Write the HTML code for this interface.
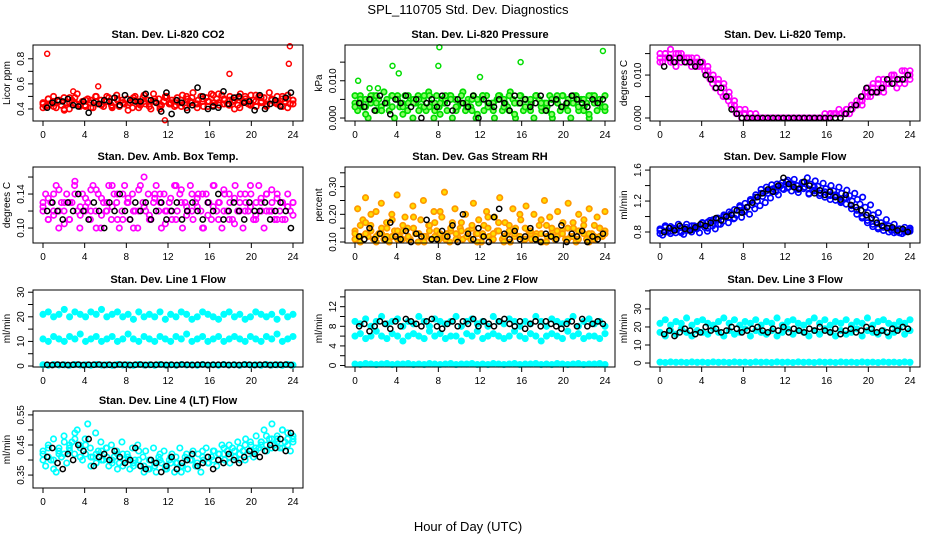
<!DOCTYPE html>
<html><head><meta charset="utf-8"><style>
body{margin:0;background:#fff;}
svg{display:block;font-family:"Liberation Sans",sans-serif;}
</style></head><body>
<svg id="c" width="936" height="540" xmlns="http://www.w3.org/2000/svg">
<text x="468" y="14" text-anchor="middle" font-size="13">SPL_110705  Std. Dev. Diagnostics</text>
<text x="468" y="531" text-anchor="middle" font-size="13">Hour of Day (UTC)</text>
</svg>
<script>
const xTicks=[0,4,8,12,16,20,24];
const titles=["Stan. Dev. Li-820 CO2","Stan. Dev. Li-820 Pressure","Stan. Dev. Li-820 Temp.","Stan. Dev. Amb. Box Temp.","Stan. Dev. Gas Stream RH","Stan. Dev. Sample Flow","Stan. Dev. Line 1 Flow","Stan. Dev. Line 2 Flow","Stan. Dev. Line 3 Flow","Stan. Dev. Line 4 (LT) Flow"];
const yTitles=["Licor ppm","kPa","degrees C","degrees C","percent","ml/min","ml/min","ml/min","ml/min","ml/min"];
const yDomains=[[0.304,0.91],[-0.0008,0.0196],[-0.0007,0.0170],[0.0824,0.1718],[0.0964,0.371],[0.658,1.64],[-0.4,30.9],[-0.3,15.4],[-2.2,40.5],[0.307,0.563]];
const yTickVals=[[0.4,0.5,0.6,0.7,0.8],[0,0.005,0.01,0.015],[0,0.005,0.01,0.015],[0.1,0.12,0.14,0.16],[0.1,0.15,0.2,0.25,0.3,0.35],[0.8,1.0,1.2,1.4,1.6],[0,5,10,15,20,25,30],[0,2,4,6,8,10,12,14],[0,10,20,30,40],[0.35,0.4,0.45,0.5,0.55]];
const yTickLabels=[["0.4","","0.6","","0.8"],["0.000","","0.010",""],["0.000","","0.010",""],["0.10","","0.14",""],["0.10","","0.20","","0.30",""],["0.8","","1.2","","1.6"],["0","","10","","20","","30"],["0","","4","","8","","12",""],["0","10","20","30",""],["0.35","","0.45","","0.55"]];
const colors=["#ff0000","#00dd00","#ff00ff","#ff00ff","#ff9900","#0000ff","#00ffff","#00ffff","#00ffff","#00ffff"];
const fills=["none","#88ff66","none","none","#ffdd00","none","#00ffff","#00ffff","#00ffff","none"];

const co2=[0.45,0.42,0.48,0.44,0.50,0.41,0.46,0.43,0.49,0.45,0.40,0.47,0.44,0.52,0.42,0.46,0.43,0.48,0.45,0.41,0.50,0.44,0.47,0.42,0.46,0.49,0.43,0.45,0.51,0.42,0.47,0.44,0.48,0.45,0.41,0.50,0.46,0.43,0.49,0.44,0.47,0.40,0.52,0.45,0.48,0.43,0.46,0.50,0.44,0.47,0.42,0.49,0.45,0.51,0.43,0.48,0.46,0.53,0.44,0.47,0.50,0.42,0.49,0.46,0.52,0.45,0.48,0.43,0.51,0.47,0.44,0.50,0.46,0.49,0.43,0.52,0.45,0.48,0.44,0.51,0.47,0.42,0.50,0.46,0.49,0.44,0.53,0.47,0.45,0.50,0.43,0.48,0.46,0.51,0.44,0.47];
const co2b=[0.41,0.43,0.46,0.47,0.40,0.49,0.45,0.44,0.42,0.47,0.50,0.43,0.46,0.41,0.48,0.45,0.39,0.47,0.44,0.51,0.42,0.46,0.40,0.49,0.44,0.47,0.42,0.50,0.45,0.41,0.48,0.46,0.43,0.52,0.44,0.47,0.40,0.49,0.46,0.43,0.51,0.45,0.42,0.48,0.44,0.50,0.41,0.47];
const co2c=[0.44,0.48,0.42,0.46,0.39,0.45,0.49,0.43,0.47,0.41,0.46,0.44,0.50,0.42,0.47,0.45,0.43,0.49,0.41,0.46,0.44,0.48,0.42,0.50,0.45,0.43,0.47,0.41,0.49,0.44,0.46,0.42,0.51,0.45,0.48,0.43,0.47,0.41,0.50,0.44,0.46,0.49,0.43,0.47,0.45,0.42,0.48,0.44];
const co2Black=[0.41,0.45,0.47,0.46,0.48,0.43,0.42,0.46,0.37,0.45,0.44,0.47,0.46,0.49,0.43,0.51,0.47,0.46,0.46,0.52,0.47,0.45,0.38,0.53,0.36,0.47,0.45,0.39,0.43,0.57,0.50,0.40,0.42,0.41,0.54,0.44,0.49,0.50,0.45,0.46,0.39,0.51,0.40,0.44,0.47,0.42,0.49,0.53];
const co2OutHours=[0.4,5.3,17.9,23.6,23.7,11.7,2.9];
const co2OutVals=[0.84,0.58,0.68,0.76,0.90,0.31,0.54];

const pres=[0.004,0.002,0.006,0.003,0.005,0.000,0.004,0.006,0.002,0.005,0.003,0.007,0.004,0.002,0.006,0.000,0.005,0.003,0.004,0.006,0.002,0.005,0.000,0.004,0.006,0.003,0.005,0.002,0.007,0.004,0.000,0.006,0.003,0.005,0.004,0.002,0.006,0.000,0.005,0.003,0.004,0.007,0.002,0.005,0.003,0.006,0.000,0.004,0.005,0.002,0.006,0.003,0.004,0.000,0.005,0.006,0.002,0.004,0.003,0.007,0.005,0.000,0.004,0.006,0.002,0.005,0.003,0.004,0.000,0.006,0.005,0.002,0.004,0.003,0.006,0.000,0.005,0.004,0.002,0.006,0.003,0.005,0.000,0.004,0.006,0.002,0.005,0.003,0.004,0.000,0.006,0.005,0.002,0.004,0.003,0.006];
const presb=[0.003,0.005,0.001,0.006,0.004,0.002,0.005,0.003,0.006,0.001,0.004,0.005,0.002,0.006,0.003,0.004,0.001,0.005,0.006,0.002,0.004,0.003,0.005,0.001,0.006,0.004,0.002,0.005,0.003,0.006,0.001,0.004,0.005,0.002,0.006,0.003,0.004,0.001,0.005,0.006,0.002,0.004,0.003,0.005,0.001,0.006,0.004,0.002];
const presc=[0.006,0.004,0.003,0.005,0.006,0.002,0.004,0.006,0.005,0.003,0.006,0.004,0.005,0.003,0.006,0.002,0.004,0.006,0.005,0.003,0.006,0.004,0.002,0.005,0.006,0.003,0.004,0.006,0.005,0.002,0.004,0.006,0.003,0.005,0.006,0.004,0.002,0.005,0.006,0.003,0.004,0.006,0.005,0.002,0.006,0.004,0.005,0.003];
const presBlack=[0.004,0.003,0.005,0.002,0.006,0.004,0.001,0.005,0.004,0.006,0.003,0.005,0.000,0.004,0.005,0.003,0.006,0.004,0.002,0.005,0.004,0.003,0.006,0.000,0.005,0.004,0.003,0.005,0.004,0.002,0.006,0.004,0.005,0.003,0.004,0.006,0.002,0.004,0.005,0.003,0.004,0.006,0.005,0.004,0.003,0.005,0.004,0.005];
const presOutHours=[0.3,2.2,3.6,4.2,8.0,8.1,12.0,15.9,23.8,1.4];
const presOutVals=[0.010,0.008,0.014,0.012,0.014,0.019,0.011,0.015,0.018,0.008];

const tmp=[0.014,0.013,0.015,0.014,0.016,0.013,0.014,0.015,0.013,0.014,0.013,0.014,0.012,0.013,0.014,0.012,0.013,0.011,0.010,0.009,0.008,0.007,0.008,0.006,0.005,0.005,0.004,0.003,0.002,0.001,0.001,0.000,0.001,0.000,0.000,0.000,0.000,0.000,0.000,0.000,0.000,0.000,0.000,0.000,0.000,0.000,0.000,0.000,0.000,0.000,0.000,0.000,0.000,0.000,0.000,0.000,0.000,0.000,0.000,0.000,0.000,0.000,0.000,0.000,0.000,0.001,0.001,0.001,0.002,0.001,0.001,0.002,0.001,0.002,0.003,0.003,0.004,0.005,0.006,0.007,0.005,0.008,0.006,0.009,0.007,0.006,0.008,0.009,0.010,0.008,0.007,0.009,0.011,0.008,0.010,0.009];
const tmpb=[0.015,0.014,0.013,0.015,0.014,0.013,0.014,0.012,0.013,0.011,0.010,0.009,0.007,0.006,0.004,0.002,0.002,0.001,0.001,0.000,0.000,0.000,0.000,0.000,0.000,0.000,0.000,0.000,0.000,0.000,0.000,0.000,0.001,0.001,0.001,0.002,0.002,0.003,0.004,0.005,0.006,0.008,0.007,0.009,0.010,0.008,0.011,0.010];
const tmpc=[0.013,0.015,0.014,0.012,0.015,0.014,0.013,0.013,0.012,0.012,0.009,0.008,0.008,0.005,0.003,0.002,0.001,0.001,0.000,0.000,0.000,0.000,0.000,0.000,0.000,0.000,0.000,0.000,0.000,0.000,0.000,0.001,0.001,0.001,0.001,0.001,0.003,0.004,0.003,0.006,0.007,0.006,0.009,0.008,0.010,0.009,0.009,0.011];
const tmpBlack=[0.012,0.014,0.013,0.014,0.013,0.013,0.012,0.013,0.010,0.009,0.007,0.007,0.005,0.002,0.001,0.000,0.000,0.000,0.000,0.000,0.000,0.000,0.000,0.000,0.000,0.000,0.000,0.000,0.000,0.000,0.000,0.000,0.000,0.000,0.000,0.001,0.002,0.003,0.005,0.007,0.006,0.006,0.007,0.009,0.008,0.009,0.009,0.010];

const amb=[0.12,0.14,0.11,0.13,0.12,0.15,0.10,0.13,0.12,0.14,0.11,0.13,0.15,0.12,0.10,0.14,0.12,0.13,0.11,0.15,0.12,0.14,0.10,0.13,0.12,0.15,0.11,0.14,0.13,0.10,0.12,0.15,0.13,0.11,0.14,0.12,0.10,0.15,0.13,0.12,0.14,0.11,0.13,0.15,0.12,0.10,0.14,0.12,0.13,0.11,0.15,0.12,0.14,0.10,0.13,0.12,0.15,0.11,0.13,0.14,0.12,0.10,0.14,0.13,0.11,0.15,0.12,0.13,0.10,0.14,0.12,0.13,0.11,0.15,0.12,0.14,0.10,0.13,0.12,0.14,0.11,0.13,0.15,0.12,0.10,0.14,0.12,0.13,0.11,0.14,0.12,0.13,0.11,0.14,0.12,0.13];
const ambb=[0.13,0.11,0.14,0.12,0.105,0.13,0.155,0.115,0.125,0.145,0.10,0.135,0.12,0.15,0.11,0.14,0.13,0.10,0.12,0.16,0.11,0.135,0.14,0.105,0.12,0.15,0.13,0.115,0.14,0.125,0.10,0.13,0.15,0.11,0.12,0.14,0.105,0.13,0.12,0.15,0.11,0.135,0.12,0.145,0.11,0.13,0.125,0.115];
const ambc=[0.125,0.135,0.115,0.145,0.13,0.11,0.14,0.125,0.135,0.12,0.145,0.115,0.13,0.125,0.14,0.11,0.135,0.12,0.145,0.125,0.115,0.14,0.13,0.12,0.135,0.11,0.145,0.125,0.12,0.135,0.14,0.115,0.125,0.13,0.145,0.11,0.135,0.12,0.14,0.125,0.115,0.13,0.14,0.12,0.135,0.11,0.125,0.13];
const ambBlack=[0.12,0.13,0.12,0.11,0.13,0.12,0.14,0.12,0.11,0.13,0.12,0.10,0.13,0.12,0.14,0.12,0.11,0.13,0.12,0.13,0.11,0.12,0.13,0.11,0.12,0.13,0.11,0.12,0.13,0.12,0.11,0.13,0.12,0.14,0.11,0.12,0.13,0.12,0.11,0.13,0.12,0.12,0.13,0.11,0.12,0.13,0.12,0.10];

const rh=[0.14,0.22,0.10,0.18,0.26,0.12,0.16,0.11,0.21,0.13,0.24,0.11,0.17,0.10,0.20,0.14,0.27,0.12,0.11,0.19,0.15,0.11,0.23,0.13,0.10,0.18,0.25,0.12,0.16,0.11,0.21,0.14,0.11,0.19,0.28,0.13,0.10,0.17,0.22,0.12,0.15,0.11,0.20,0.14,0.11,0.24,0.13,0.18,0.10,0.16,0.21,0.12,0.11,0.19,0.14,0.26,0.11,0.17,0.13,0.10,0.22,0.15,0.12,0.18,0.11,0.23,0.14,0.11,0.20,0.13,0.16,0.10,0.25,0.12,0.19,0.14,0.11,0.21,0.13,0.17,0.11,0.24,0.12,0.15,0.10,0.20,0.14,0.18,0.11,0.22,0.13,0.11,0.19,0.15,0.12,0.21];
const rhb=[0.11,0.16,0.13,0.20,0.10,0.15,0.12,0.18,0.11,0.14,0.11,0.19,0.13,0.10,0.16,0.12,0.21,0.11,0.14,0.11,0.17,0.12,0.15,0.10,0.13,0.19,0.11,0.14,0.10,0.16,0.12,0.20,0.11,0.13,0.11,0.18,0.10,0.15,0.12,0.14,0.11,0.17,0.11,0.13,0.10,0.16,0.12,0.14];
const rhc=[0.13,0.12,0.17,0.14,0.12,0.13,0.15,0.12,0.14,0.16,0.12,0.15,0.13,0.12,0.14,0.17,0.13,0.12,0.15,0.13,0.14,0.12,0.16,0.13,0.12,0.15,0.13,0.17,0.12,0.14,0.13,0.12,0.15,0.14,0.12,0.13,0.16,0.12,0.14,0.13,0.15,0.12,0.14,0.16,0.13,0.12,0.15,0.13];
const rhBlack=[0.12,0.11,0.15,0.11,0.13,0.11,0.17,0.12,0.11,0.14,0.10,0.13,0.12,0.18,0.11,0.11,0.14,0.12,0.16,0.10,0.20,0.13,0.11,0.15,0.12,0.10,0.19,0.22,0.13,0.11,0.14,0.11,0.12,0.15,0.11,0.10,0.13,0.12,0.11,0.16,0.10,0.13,0.12,0.14,0.10,0.12,0.11,0.13];

const flow=[0.82,0.76,0.88,0.80,0.78,0.85,0.79,0.90,0.81,0.77,0.86,0.83,0.80,0.88,0.84,0.79,0.92,0.86,0.81,0.95,0.88,0.84,0.98,0.90,0.94,1.00,0.92,1.04,0.97,1.02,1.08,0.99,1.06,1.12,1.03,1.15,1.10,1.20,1.14,1.26,1.18,1.30,1.24,1.36,1.32,1.28,1.40,1.35,1.45,1.38,1.33,1.48,1.40,1.36,1.44,1.38,1.50,1.42,1.34,1.46,1.39,1.30,1.43,1.36,1.28,1.40,1.33,1.26,1.38,1.30,1.24,1.34,1.27,1.20,1.30,1.22,1.16,1.25,1.12,1.05,1.15,1.02,0.96,1.05,0.92,0.88,0.96,0.85,0.82,0.90,0.80,0.84,0.78,0.86,0.81,0.83];
const flowb=[0.78,0.86,0.81,0.84,0.79,0.90,0.83,0.87,0.92,0.85,0.96,0.90,1.00,1.06,0.98,1.12,1.08,1.20,1.25,1.30,1.38,1.33,1.42,1.36,1.47,1.40,1.35,1.44,1.30,1.38,1.27,1.32,1.22,1.28,1.18,1.24,1.14,1.08,1.00,0.95,0.90,0.86,0.82,0.88,0.79,0.84,0.80,0.85];
const flowc=[0.84,0.80,0.87,0.83,0.86,0.82,0.88,0.85,0.89,0.93,0.91,0.97,1.02,0.99,1.09,1.14,1.17,1.22,1.28,1.35,1.33,1.41,1.38,1.44,1.37,1.42,1.31,1.36,1.29,1.33,1.30,1.25,1.27,1.21,1.20,1.16,1.10,1.03,0.98,0.92,0.87,0.84,0.86,0.80,0.83,0.79,0.82,0.81];
const flowBlack=[0.80,0.85,0.82,0.88,0.84,0.82,0.86,0.90,0.88,0.92,0.98,0.95,1.00,1.02,1.08,1.05,1.12,1.18,1.25,1.30,1.35,1.32,1.40,1.50,1.42,1.38,1.36,1.45,1.40,1.30,1.34,1.28,1.32,1.25,1.22,1.28,1.15,1.12,1.08,1.02,0.98,0.92,0.88,0.85,0.86,0.82,0.84,0.80];

const l1High=[21,22,20,21,23,20,22,21,20,22,21,23,20,21,22,20,21,19,22,20,21,20,22,19,21,20,22,21,19,20,22,21,20,19,21,22,20,21,19,20,22,21,20,21,19,22,20,21];
const l1Mid=[11,10,12,11,10,12,11,13,10,11,12,10,11,12,10,11,13,11,10,12,11,10,12,11,10,12,11,13,10,11,12,10,11,12,10,11,12,11,10,12,11,10,12,11,13,10,11,12];
const l1Low=[0.5,0.3,0.6,0.4,0.5,0.3,0.6,0.4,0.5,0.3,0.6,0.4,0.5,0.3,0.6,0.4,0.5,0.3,0.6,0.4,0.5,0.3,0.6,0.4,0.5,0.3,0.6,0.4,0.5,0.3,0.6,0.4,0.5,0.3,0.6,0.4,0.5,0.3,0.6,0.4,0.5,0.3,0.6,0.4,0.5,0.3,0.6,0.4];
const l1Black=[0.5,0.4,0.6,0.5,0.4,0.5,0.6,0.4,0.5,0.5,0.6,0.4,0.5,0.4,0.6,0.5,0.4,0.5,0.6,0.4,0.5,0.5,0.6,0.4,0.5,0.4,0.6,0.5,0.4,0.5,0.6,0.4,0.5,0.5,0.6,0.4,0.5,0.4,0.6,0.5,0.4,0.5,0.6,0.4,0.5,0.5,0.6,0.4];

const l2High=[9,8.5,9.5,8,9,10,8.5,9,9.5,8,9,8.5,10,9,8,9.5,9,8.5,9,10,8,9,9.5,8.5,9,8,10,9,8.5,9.5,9,8,9,8.5,10,9,8,9.5,9,8.5,9,10,8,9,9.5,8.5,9,8];
const l2Mid=[6,6.5,5.5,6,7,6,5.5,6.5,6,5,6,6.5,6,5.5,7,6,6.5,5.5,6,6,5,6.5,6,7,5.5,6,6.5,6,5.5,6,7,6,5.5,6.5,6,5,6,6.5,6,5.5,7,6,6.5,5.5,6,6,5.5,6.5];
const l2Low=[0.3,0.2,0.4,0.3,0.2,0.3,0.4,0.2,0.3,0.3,0.4,0.2,0.3,0.2,0.4,0.3,0.2,0.3,0.4,0.2,0.3,0.3,0.4,0.2,0.3,0.2,0.4,0.3,0.2,0.3,0.4,0.2,0.3,0.3,0.4,0.2,0.3,0.2,0.4,0.3,0.2,0.3,0.4,0.2,0.3,0.3,0.4,0.2];
const l2Black=[8,8.5,7,8,9,8.5,7.5,9,8,9.5,9,8.5,8,9,9.5,8,7.5,8.5,9,8,9,8.5,9.5,8,9,8.5,8,9,9.5,8.5,8,9,7.5,8.5,9,8,9,8.5,8,7.5,8.5,9,8,9.5,8,8.5,9,8.5];

const l3High=[22,24,21,23,22,25,21,23,24,22,21,23,25,22,24,21,23,22,24,21,23,22,25,21,23,24,22,21,23,25,22,24,21,23,22,24,21,23,22,25,21,23,24,22,21,23,22,24];
const l3Mid=[17,15,18,16,19,17,15,18,17,16,19,17,15,18,16,17,19,15,18,17,16,18,15,17,19,16,18,17,15,18,16,19,17,15,18,16,17,19,15,18,17,16,18,15,17,19,16,18];
const l3Low=[0.5,0.3,0.6,0.4,0.5,0.3,0.6,0.4,0.5,0.3,0.6,0.4,0.5,0.3,0.6,0.4,0.5,0.3,0.6,0.4,0.5,0.3,0.6,0.4,0.5,0.3,0.6,0.4,0.5,0.3,0.6,0.4,0.5,0.3,0.6,0.4,0.5,0.3,0.6,0.4,0.5,0.3,0.6,0.4,0.5,0.3,0.6,0.4];
const l3Black=[16,18,15,17,19,18,16,17,20,18,19,17,18,20,19,17,18,19,20,18,17,19,18,20,17,19,18,17,19,18,20,18,17,19,16,18,19,17,18,20,19,17,18,17,19,18,20,19];

const l4=[0.42,0.38,0.45,0.40,0.47,0.36,0.43,0.41,0.48,0.39,0.44,0.46,0.42,0.50,0.45,0.40,0.47,0.52,0.44,0.41,0.49,0.43,0.46,0.40,0.44,0.38,0.45,0.41,0.43,0.39,0.46,0.40,0.42,0.37,0.44,0.40,0.45,0.38,0.41,0.43,0.37,0.40,0.44,0.36,0.41,0.39,0.43,0.37,0.40,0.42,0.36,0.39,0.44,0.38,0.41,0.37,0.40,0.43,0.38,0.42,0.36,0.40,0.44,0.39,0.41,0.43,0.38,0.42,0.45,0.40,0.43,0.39,0.44,0.41,0.46,0.40,0.43,0.47,0.42,0.45,0.41,0.48,0.44,0.46,0.50,0.43,0.47,0.52,0.45,0.48,0.44,0.50,0.46,0.49,0.43,0.47];
const l4b=[0.40,0.44,0.37,0.42,0.46,0.43,0.49,0.41,0.45,0.38,0.42,0.40,0.44,0.39,0.37,0.42,0.40,0.38,0.43,0.36,0.40,0.38,0.42,0.37,0.39,0.41,0.36,0.40,0.42,0.38,0.41,0.39,0.43,0.40,0.42,0.45,0.41,0.44,0.40,0.46,0.43,0.45,0.48,0.44,0.47,0.50,0.45,0.48];
const l4c=[0.43,0.41,0.40,0.44,0.42,0.45,0.47,0.44,0.42,0.41,0.39,0.43,0.41,0.40,0.42,0.38,0.41,0.39,0.40,0.38,0.37,0.39,0.40,0.38,0.41,0.39,0.38,0.42,0.40,0.39,0.43,0.41,0.40,0.42,0.44,0.41,0.43,0.42,0.45,0.43,0.44,0.46,0.45,0.47,0.46,0.44,0.47,0.46];
const l4Black=[0.41,0.44,0.39,0.37,0.42,0.40,0.45,0.43,0.47,0.38,0.41,0.42,0.40,0.43,0.41,0.39,0.40,0.44,0.38,0.37,0.40,0.39,0.36,0.38,0.41,0.37,0.39,0.40,0.42,0.38,0.39,0.41,0.37,0.40,0.39,0.42,0.40,0.39,0.41,0.43,0.42,0.41,0.43,0.45,0.44,0.47,0.43,0.49];

const panels=[
 {main:[co2,co2b,co2c],black:co2Black,outH:co2OutHours,outV:co2OutVals},
 {main:[pres,presb,presc],black:presBlack,outH:presOutHours,outV:presOutVals},
 {main:[tmp,tmpb,tmpc],black:tmpBlack},
 {main:[amb,ambb,ambc],black:ambBlack},
 {main:[rh,rhb,rhc],black:rhBlack},
 {main:[flow,flowb,flowc],black:flowBlack},
 {main:[l1High,l1Mid,l1Low],black:l1Black},
 {main:[l2High,l2Mid,l2Low],black:l2Black},
 {main:[l3High,l3Mid,l3Low],black:l3Black},
 {main:[l4,l4b,l4c],black:l4Black}
];
const NS="http://www.w3.org/2000/svg";
const svg=document.getElementById('c');
function mk(tag,attrs,parent){const e=document.createElementNS(NS,tag);for(const k in attrs)e.setAttribute(k,attrs[k]);(parent||svg).appendChild(e);return e;}
const colL=[33,345,650], rowT=[45,167,290,411], rowH=[76,76,77,77], W=270;
panels.forEach((p,i)=>{
  const L=colL[i%3], r=Math.floor(i/3), T=rowT[r], H=rowH[r];
  const g=mk('g',{});
  
  
  const xs=h=>L+10+h/24*250;
  const [y0,y1]=yDomains[i];
  const ys=v=>T+H-(v-y0)/(y1-y0)*H;
  const t=mk('text',{x:L+W/2,y:T-7,'text-anchor':'middle','font-size':11,'font-weight':'bold'},g);
  t.textContent=titles[i];
  
  
  xTicks.forEach(h=>{
    mk('line',{x1:xs(h),x2:xs(h),y1:T+H,y2:T+H+5,stroke:'#000'},g);
    const tl=mk('text',{x:xs(h),y:T+H+17,'text-anchor':'middle','font-size':10},g);
    tl.textContent=h;
    
    
  });
  yTickVals[i].forEach((v,k)=>{
    const y=ys(v);
    mk('line',{x1:L-5,x2:L,y1:y,y2:y,stroke:'#000'},g);
    const lab=yTickLabels[i][k];
    if(lab){
      const tl=mk('text',{x:0,y:0,'text-anchor':'middle','font-size':10,transform:`translate(${L-9},${y}) rotate(-90)`},g);
      tl.textContent=lab;
      
      
    }
  });
  const yt=mk('text',{x:0,y:0,'text-anchor':'middle','font-size':10,transform:`translate(${L-23},${T+H/2}) rotate(-90)`},g);
  yt.textContent=yTitles[i];
  
  
  const col=colors[i], fl=fills[i];
  p.main.forEach(arr=>{
    arr.forEach((v,k)=>{
      const c=mk('circle',{cx:xs(k*24/(arr.length-1)),cy:ys(v),r:2.7,fill:fl,stroke:col,'stroke-width':1.7},g);
      
      
    });
  });
  if(p.outH){p.outH.forEach((h,k)=>{
    const c=mk('circle',{cx:xs(h),cy:ys(p.outV[k]),r:2.5,fill:'none',stroke:col,'stroke-width':1.5},g);
    
    
  });}
  p.black.forEach((v,k)=>{
    const c=mk('circle',{cx:xs(0.4+k*23.4/(p.black.length-1)),cy:ys(v),r:2.6,fill:'none',stroke:'#000','stroke-width':1.5},g);
    
    
  });
  const box=mk('rect',{x:L,y:T,width:W,height:H,fill:'none',stroke:'#000','stroke-width':1},g);
  
  
});
</script>
</body></html>
